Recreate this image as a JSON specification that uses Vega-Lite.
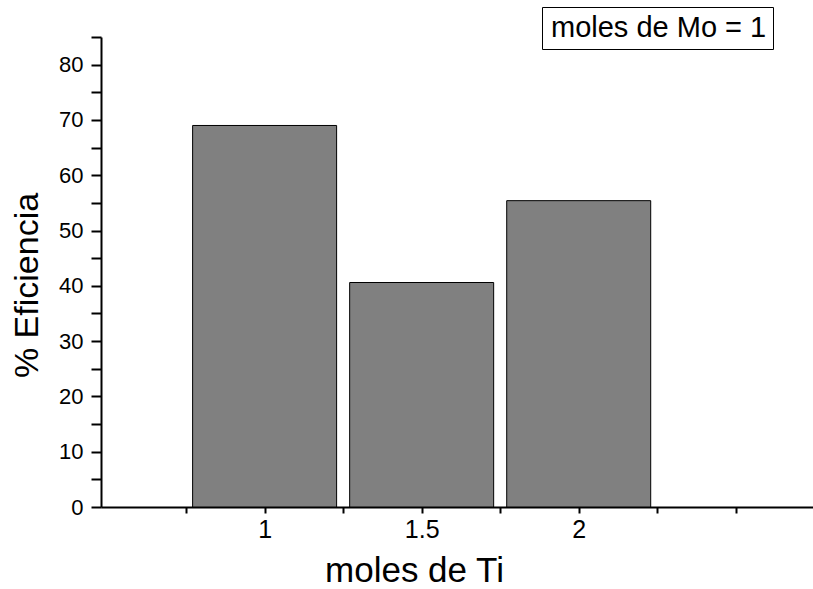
{
  "$schema": "https://vega.github.io/schema/vega-lite/v6.json",
  "autosize": {"type": "none"},
  "padding": {"left": 101, "top": 37, "right": 0, "bottom": 82},
  "width": 712,
  "height": 470,
  "background": "white",
  "config": {
    "view": {"stroke": null},
    "font": "Liberation Sans",
    "axis": {
      "labelFont": "Liberation Sans",
      "titleFont": "Liberation Sans",
      "labelColor": "black",
      "titleColor": "black",
      "titleFontWeight": "normal",
      "domainColor": "black",
      "tickColor": "black",
      "domainWidth": 2,
      "tickWidth": 2,
      "grid": false
    }
  },
  "data": {
    "values": [
      {"moles_Ti": 1, "eficiencia": 69.0, "serie": "moles de Mo = 1"},
      {"moles_Ti": 1.5, "eficiencia": 40.6, "serie": "moles de Mo = 1"},
      {"moles_Ti": 2, "eficiencia": 55.4, "serie": "moles de Mo = 1"}
    ]
  },
  "mark": {"type": "bar", "width": 144, "stroke": "black", "strokeWidth": 1},
  "encoding": {
    "x": {
      "field": "moles_Ti",
      "type": "quantitative",
      "scale": {"domain": [0.495, 2.73], "nice": false, "zero": false},
      "axis": {
        "title": "moles de Ti",
        "titleFontSize": 35,
        "titleAlign": "center",
        "titleBaseline": "alphabetic",
        "titleX": 313,
        "titleY": 74,
        "values": [0.75, 1, 1.25, 1.5, 1.75, 2, 2.25, 2.5],
        "labelExpr": "datum.value == 1 ? '1' : datum.value == 1.5 ? '1.5' : datum.value == 2 ? '2' : ''",
        "labelFontSize": 25,
        "tickSize": 6,
        "labelPadding": 4,
        "labelFlush": false,
        "labelOverlap": false,
        "encode": {
          "ticks": {
            "update": {
              "y": {"signal": "(datum.value * 4) % 2 == 1 ? -5 : -3"},
              "y2": {"signal": "(datum.value * 4) % 2 == 1 ? 6 : 0"}
            }
          }
        }
      }
    },
    "y": {
      "field": "eficiencia",
      "type": "quantitative",
      "scale": {"domain": [0, 85], "nice": false},
      "axis": {
        "title": "% Eficiencia",
        "titleFontSize": 34,
        "titleAngle": -90,
        "titleAlign": "center",
        "titleBaseline": "alphabetic",
        "titleX": -64,
        "titleY": 248,
        "values": [0, 5, 10, 15, 20, 25, 30, 35, 40, 45, 50, 55, 60, 65, 70, 75, 80, 85],
        "labelExpr": "datum.value % 10 == 0 ? datum.label : ''",
        "labelFontSize": 22,
        "tickSize": 10,
        "labelPadding": 8,
        "labelOverlap": false,
        "labelFlush": false,
        "encode": {
          "ticks": {
            "update": {
              "x2": {"signal": "datum.value % 10 == 0 ? -10 : -5"}
            }
          }
        }
      }
    },
    "color": {
      "field": "serie",
      "type": "nominal",
      "scale": {"range": ["#808080"]},
      "legend": {
        "title": null,
        "orient": "none",
        "legendX": 441,
        "legendY": -30,
        "strokeColor": "black",
        "padding": 6,
        "labelFontSize": 29,
        "labelFont": "Liberation Sans",
        "labelColor": "black",
        "labelOffset": -26,
        "symbolSize": 0,
        "symbolStrokeWidth": 0,
        "symbolOpacity": 0,
        "labelLimit": 400
      }
    }
  }
}
